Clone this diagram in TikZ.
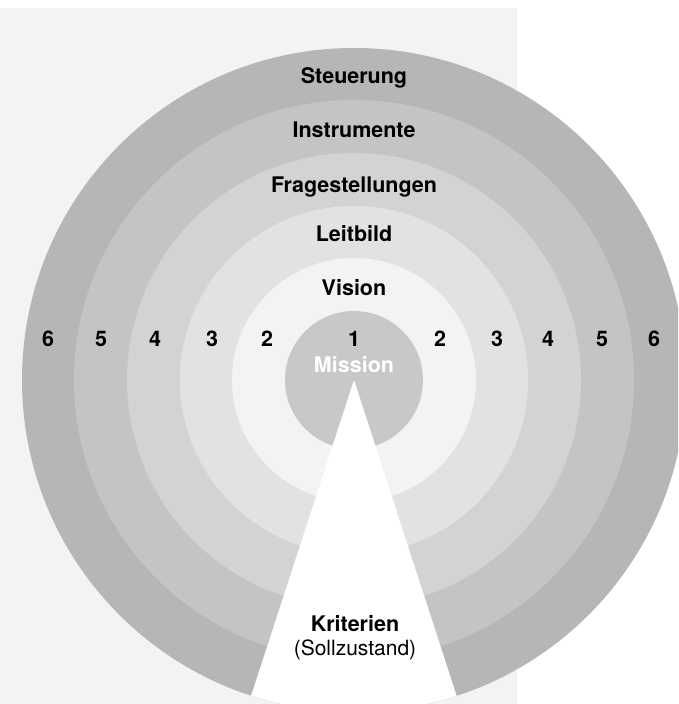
\documentclass[tikz,border=0pt]{standalone}
\usepackage{fontspec}
\setmainfont{TeX Gyre Heros}
\definecolor{bgcol}{HTML}{F3F3F3}
\definecolor{ringsix}{HTML}{B6B6B6}
\definecolor{ringfive}{HTML}{C4C4C4}
\definecolor{ringfour}{HTML}{D3D3D3}
\definecolor{ringthree}{HTML}{E2E2E2}
\definecolor{ringtwo}{HTML}{F3F3F3}
\definecolor{missioncol}{HTML}{C8C8C8}
\begin{document}
\begin{tikzpicture}[x=1pt,y=-1pt,
  lbl/.style={font=\fontsize{21.5}{24}\selectfont\bfseries, anchor=base, inner sep=0pt},
  sublbl/.style={font=\fontsize{21}{24}\selectfont, anchor=base, inner sep=0pt}]
\useasboundingbox (0,0) rectangle (678,704);
\clip (0,0) rectangle (678,704);
\fill[bgcol] (0,8) rectangle (517,704);
\coordinate (c) at (354,380);
\fill[ringsix] (c) circle (332);
\fill[ringfive] (c) circle (280);
\fill[ringfour] (c) circle (227);
\fill[ringthree] (c) circle (174);
\fill[ringtwo] (c) circle (122);
\fill[missioncol] (c) circle (69);
\begin{scope}
  \clip (c) circle (332);
  \fill[white] (c) -- ++(72:420) -- ++(180:260) -- cycle;
\end{scope}
% ring titles
\node[lbl] (steu) at (354,83) {Steuerung};
\node[lbl] (instr) at (354,137) {Instrumente};
\node[lbl] (frag) at (354,192) {Fragestellungen};
\node[lbl] (leit) at (354,241) {Leitbild};
\node[lbl] (vis) at (354,295) {Vision};
\node[lbl] (one) at (354,346) {1};
\node[lbl, white] (miss) at (354,372) {Mission};
% numbers
\node[lbl] (l6) at (48,346) {6};
\node[lbl] (l5) at (101,346) {5};
\node[lbl] (l4) at (155,346) {4};
\node[lbl] (l3) at (212,346) {3};
\node[lbl] (l2) at (267,346) {2};
\node[lbl] (r2) at (440,346) {2};
\node[lbl] (r3) at (497,346) {3};
\node[lbl] (r4) at (548,346) {4};
\node[lbl] (r5) at (602,346) {5};
\node[lbl] (r6) at (654,346) {6};
% criteria
\node[lbl] (krit) at (355,631) {Kriterien};
\node[sublbl] (soll) at (355,655) {(Sollzustand)};
\end{tikzpicture}
\end{document}
